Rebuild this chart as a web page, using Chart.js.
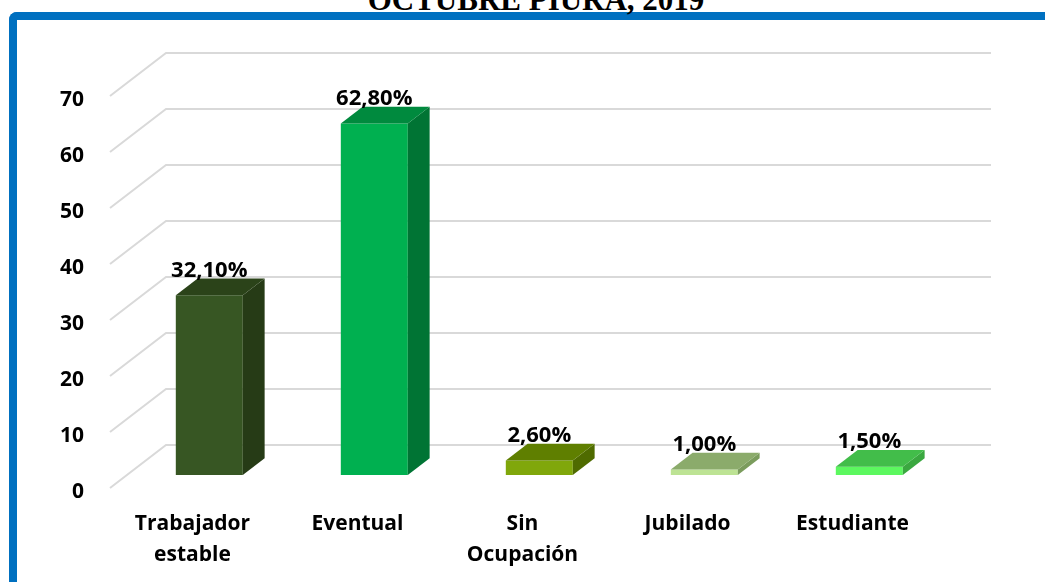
<!DOCTYPE html>
<html>
<head>
<meta charset="utf-8">
<script src="https://cdn.jsdelivr.net/npm/chart.js@4.4.1/dist/chart.umd.min.js"></script>
<style>
html, body { margin:0; padding:0; background:#fff; overflow:hidden; }
#marco { position:absolute; left:9px; top:12px; width:1100px; height:620px;
  border-left:8px solid #0070c0; border-top:8px solid #0070c0; border-top-left-radius:8px; }
#titulo { position:absolute; left:0; top:-16px; width:1072px; line-height:32px; text-align:center;
  font-family:"Liberation Serif", serif; font-weight:bold; font-size:31px; color:#000; white-space:nowrap; }
#grafica { position:absolute; left:0; top:0; }
</style>
</head>
<body>
<div id="marco"></div>
<div id="titulo">OCTUBRE PIURA, 2019</div>
<canvas id="grafica" width="1045" height="582"></canvas>
<script>
// datos
var categorias = [['Trabajador', 'estable'], 'Eventual', ['Sin', 'Ocupación'], 'Jubilado', 'Estudiante'];
var porcentajes = [32.1, 62.8, 2.6, 1.0, 1.5];
var marcasEje = [0, 10, 20, 30, 40, 50, 60, 70];

// colores de cada barra: frente, tapa, lado
var coloresFrente = ['#375623', '#00b050', '#80a70b', '#bde394', '#5cf85f'];
var coloresTapa = ['#2b4319', '#008a3e', '#5f7f00', '#8bab6b', '#42bd4a'];
var coloresLado = ['#263b16', '#007434', '#4f6b00', '#7b9c5d', '#3aa840'];

// perspectiva (px): profundidad del piso y posicion de las barras dentro de ella
var fondo = { dx: 56, dy: -43 };
var posBarra = 0.3, grosor = 0.39;
var anchoCat = 165, pxPorUnidad = 5.6;

var desplX = fondo.dx * posBarra / anchoCat;
var desplY = -fondo.dy * posBarra / pxPorUnidad;

var fuente = { family: 'Open Sans', weight: 'bold', size: 21, lineHeight: 1.45 };
var fuenteEje = { family: 'Open Sans', weight: 'bold', size: 21, lineHeight: 0.4 };

function texto(v) {
  return v.toFixed(2).replace('.', ',') + '%';
}

var paredes = {
  id: 'paredes',
  beforeDatasetsDraw: function(chart) {
    var ctx = chart.ctx, a = chart.chartArea, eje = chart.scales.y1;
    ctx.save();
    ctx.strokeStyle = '#d9d9d9';
    ctx.lineWidth = 2;
    eje.ticks.forEach(function(t) {
      var yf = eje.getPixelForValue(t.value);
      ctx.beginPath();
      ctx.moveTo(a.left, yf);
      ctx.lineTo(a.left + fondo.dx, yf + fondo.dy);
      ctx.lineTo(a.right + fondo.dx, yf + fondo.dy);
      ctx.stroke();
    });
    ctx.restore();
  },
  afterDatasetsDraw: function(chart) {
    var ctx = chart.ctx;
    var ox = fondo.dx * grosor, oy = fondo.dy * grosor;
    ctx.save();
    chart.getDatasetMeta(0).data.forEach(function(barra, i) {
      var p = barra.getProps(['x', 'y', 'base', 'width'], true);
      var izq = p.x - p.width / 2, der = p.x + p.width / 2;
      //lado
      ctx.fillStyle = coloresLado[i];
      ctx.beginPath();
      ctx.moveTo(der, p.y);
      ctx.lineTo(der + ox, p.y + oy);
      ctx.lineTo(der + ox, p.base + oy);
      ctx.lineTo(der, p.base);
      ctx.closePath();
      ctx.fill();
      //tapa
      ctx.fillStyle = coloresTapa[i];
      ctx.beginPath();
      ctx.moveTo(izq, p.y);
      ctx.lineTo(izq + ox, p.y + oy);
      ctx.lineTo(der + ox, p.y + oy);
      ctx.lineTo(der, p.y);
      ctx.closePath();
      ctx.fill();
      //etiqueta
      ctx.fillStyle = '#000';
      ctx.font = 'bold 22px "Open Sans"';
      ctx.textAlign = 'center';
      ctx.textBaseline = 'alphabetic';
      ctx.fillText(texto(porcentajes[i]), p.x, p.y + oy - 2);
    });
    ctx.restore();
  }
};

var grafica = new Chart(document.getElementById('grafica'), {
  type: 'bar',
  data: {
    datasets: [{
      data: porcentajes.map(function(v, i) { return { x: i, y: v }; }),
      xAxisID: 'xb',
      yAxisID: 'y',
      backgroundColor: coloresFrente,
      borderWidth: 0,
      barPercentage: 0.406,
      categoryPercentage: 1
    }]
  },
  options: {
    responsive: false,
    animation: false,
    layout: { padding: { left: 0, right: 110, top: 96, bottom: 0 } },
    plugins: { legend: { display: false }, tooltip: { enabled: false } },
    scales: {
      x: {
        type: 'category',
        labels: categorias,
        position: 'bottom',
        offset: true,
        grid: { display: false, drawTicks: false },
        border: { display: false },
        ticks: { padding: 21, color: '#000', font: fuente, maxRotation: 0, autoSkip: false },
        afterFit: function(s) { s.height = 94; }
      },
      xb: {
        type: 'linear',
        display: false,
        offset: false,
        min: -0.5 - desplX,
        max: categorias.length - 0.5 - desplX,
        afterBuildTicks: function(s) {
          s.ticks = categorias.map(function(c, i) { return { value: i }; });
        }
      },
      y1: {
        type: 'linear',
        position: 'left',
        min: marcasEje[0],
        max: marcasEje[marcasEje.length - 1],
        grid: { display: false, drawTicks: false },
        border: { display: false },
        ticks: {
          stepSize: 10, padding: 26, color: '#000', font: fuenteEje,
          // linea vacia arriba: baja un poco el numero respecto a la linea
          callback: function(v) { return ['', String(v)]; }
        },
        afterFit: function(s) { s.width = 110; }
      },
      y: {
        type: 'linear',
        display: false,
        min: marcasEje[0] - desplY,
        max: marcasEje[marcasEje.length - 1] - desplY
      }
    }
  },
  plugins: [paredes]
});
</script>
</body>
</html>
